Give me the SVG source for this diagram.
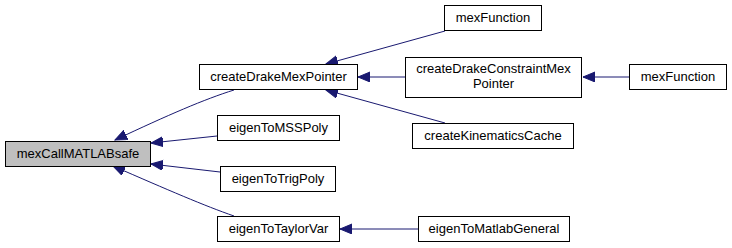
<svg xmlns="http://www.w3.org/2000/svg" width="732" height="248" viewBox="0 0 732 248">
  <style>
    .box { fill: #ffffff; stroke: #000000; stroke-width: 1; }
    .box.root { fill: #bfbfbf; }
    .lbl { font-family: "Liberation Sans", Arial, sans-serif; font-size: 13px; fill: #000000; text-anchor: middle; }
    .edge { fill: none; stroke: #191970; stroke-width: 1; marker-end: url(#arrow); }
  </style>
  <defs>
    <marker id="arrow" markerUnits="userSpaceOnUse" markerWidth="14" markerHeight="12" refX="12" refY="5" orient="auto">
      <path d="M0,0 L12,5 L0,10 Z" fill="#191970" stroke="#191970" stroke-width="1"/>
    </marker>
  </defs>
  <rect width="732" height="248" fill="#ffffff"/>

  <g id="edges">
    <path class="edge" d="M234,90 C205,99 168,115 115,140"/>
    <path class="edge" d="M217,136 L151,143"/>
    <path class="edge" d="M220,172 L151,164"/>
    <path class="edge" d="M234,216 C205,206 168,190 113,166"/>
    <path class="edge" d="M445,31 L326,64"/>
    <path class="edge" d="M405,77 L358,77"/>
    <path class="edge" d="M445,123 L326,90"/>
    <path class="edge" d="M629,77 L583,77"/>
    <path class="edge" d="M418,229 L340,229"/>
  </g>

  <g id="node-mexCallMATLABsafe">
    <rect class="box root" x="5.5" y="141.5" width="145" height="25"/>
    <text class="lbl" x="78" y="158">mexCallMATLABsafe</text>
  </g>
  <g id="node-createDrakeMexPointer">
    <rect class="box" x="199.5" y="64.5" width="158" height="25"/>
    <text class="lbl" x="278.5" y="81">createDrakeMexPointer</text>
  </g>
  <g id="node-eigenToMSSPoly">
    <rect class="box" x="217.5" y="115.5" width="122" height="25"/>
    <text class="lbl" x="278.5" y="132">eigenToMSSPoly</text>
  </g>
  <g id="node-eigenToTrigPoly">
    <rect class="box" x="220.5" y="166.5" width="115" height="25"/>
    <text class="lbl" x="278" y="183">eigenToTrigPoly</text>
  </g>
  <g id="node-eigenToTaylorVar">
    <rect class="box" x="217.5" y="216.5" width="122" height="25"/>
    <text class="lbl" x="278.5" y="233">eigenToTaylorVar</text>
  </g>
  <g id="node-mexFunction-1">
    <rect class="box" x="444.5" y="5.5" width="97" height="25"/>
    <text class="lbl" x="493" y="22">mexFunction</text>
  </g>
  <g id="node-createDrakeConstraintMexPointer">
    <rect class="box" x="405.5" y="57.5" width="176" height="40"/>
    <text class="lbl" x="493.5" y="72.5">createDrakeConstraintMex</text>
    <text class="lbl" x="493.5" y="87.5">Pointer</text>
  </g>
  <g id="node-createKinematicsCache">
    <rect class="box" x="412.5" y="123.5" width="161" height="25"/>
    <text class="lbl" x="493" y="140">createKinematicsCache</text>
  </g>
  <g id="node-mexFunction-2">
    <rect class="box" x="629.5" y="64.5" width="97" height="25"/>
    <text class="lbl" x="678" y="81">mexFunction</text>
  </g>
  <g id="node-eigenToMatlabGeneral">
    <rect class="box" x="418.5" y="216.5" width="151" height="25"/>
    <text class="lbl" x="494" y="233">eigenToMatlabGeneral</text>
  </g>
</svg>
